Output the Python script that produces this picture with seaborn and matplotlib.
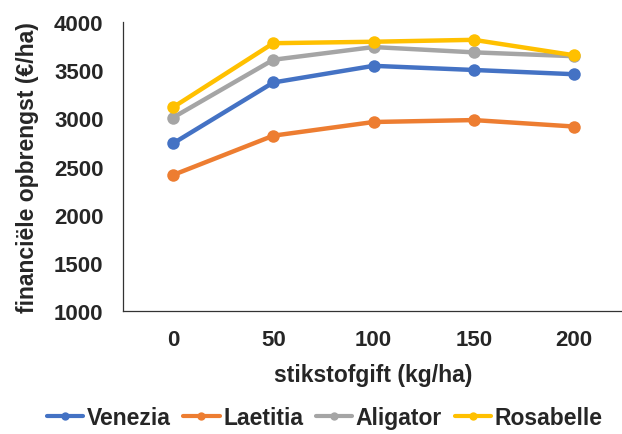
"""Financiële opbrengst per ras bij verschillende stikstofgiften."""

import matplotlib

matplotlib.use("Agg")
import matplotlib.pyplot as plt  # noqa: E402
import pandas as pd  # noqa: E402
import seaborn as sns  # noqa: E402

doses = ["0", "50", "100", "150", "200"]
venezia = [2740, 3372, 3545, 3502, 3458]
laetitia = [2412, 2820, 2962, 2982, 2915]
aligator = [3008, 3608, 3740, 3685, 3645]
rosabelle = [3115, 3780, 3795, 3815, 3655]

varieties = ["Venezia", "Laetitia", "Aligator", "Rosabelle"]
colors = ["#4472C4", "#ED7D31", "#A5A5A5", "#FFC000"]

rows = []
for name, vals in zip(varieties, [venezia, laetitia, aligator, rosabelle]):
    for i, (d, v) in enumerate(zip(doses, vals)):
        rows.append({"pos": i, "dose": d, "ras": name, "opbrengst": v})
df = pd.DataFrame(rows)

sns.set_theme(style="white")
plt.rcParams["font.family"] = ["Liberation Sans", "DejaVu Sans"]
plt.rcParams["font.weight"] = "bold"

fig = plt.figure(figsize=(6.22, 4.35), dpi=100)
ax = fig.add_axes([123 / 622, 1 - 312 / 435, 501 / 622, 289 / 435])

sns.lineplot(
    data=df, x="pos", y="opbrengst", hue="ras", hue_order=varieties,
    palette=colors, marker="o", markersize=9, markeredgewidth=0,
    linewidth=3.2, ax=ax, legend=True,
)

ax.set_xlim(-0.5, 4.5)
ax.set_ylim(1000, 4000)
ax.set_yticks(range(1000, 4001, 500))
ax.set_xticks(range(len(doses)))
ax.set_xticklabels(doses)
ax.tick_params(axis="both", length=0, labelsize=16)
ax.tick_params(axis="x", pad=13)
ax.tick_params(axis="y", pad=14)
for lbl in ax.get_xticklabels() + ax.get_yticklabels():
    lbl.set_fontweight("bold")

ax.set_xlabel("stikstofgift (kg/ha)", fontsize=16.5, fontweight="bold", labelpad=9)
ax.set_ylabel("financiële opbrengst (€/ha)", fontsize=16.5, fontweight="bold", labelpad=11)

for side in ["top", "right"]:
    ax.spines[side].set_visible(False)
for side in ["left", "bottom"]:
    ax.spines[side].set_color("#333333")
    ax.spines[side].set_linewidth(0.9)

handles, labels = ax.get_legend_handles_labels()
leg = ax.legend(
    handles, labels, loc="lower center", bbox_to_anchor=(0.522, -0.01),
    bbox_transform=fig.transFigure, ncol=4, frameon=False,
    prop={"size": 16.5, "weight": "bold"}, handlelength=1.6,
    handletextpad=0.15, columnspacing=0.55, borderaxespad=0.0,
)
for h in leg.legend_handles:
    h.set_markersize(6)
    h.set_linewidth(3)

fig.savefig("out.png", dpi=100)
plt.close(fig)
